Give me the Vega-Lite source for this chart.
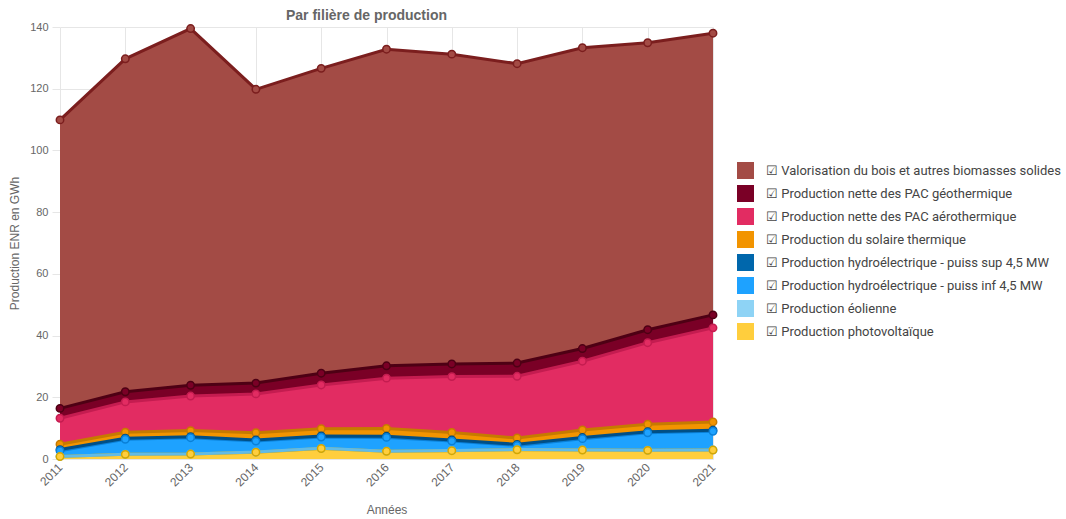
{
  "$schema": "https://vega.github.io/schema/vega-lite/v6.json",
  "width": 653,
  "height": 432,
  "autosize": {"type": "none"},
  "padding": {"left": 60, "top": 27, "right": 353, "bottom": 60},
  "background": "white",
  "title": {
    "text": "Par filière de production",
    "font": "Liberation Sans",
    "fontSize": 14,
    "fontWeight": "bold",
    "color": "#666666",
    "offset": -2,
    "dx": -20
  },
  "config": {
    "view": {"stroke": null},
    "axis": {
      "labelFont": "Liberation Sans",
      "labelFontSize": 11,
      "labelColor": "#666666",
      "titleFont": "Liberation Sans",
      "titleFontSize": 12,
      "titleFontWeight": "normal",
      "titleColor": "#666666",
      "gridColor": "#e6e6e6",
      "domainColor": "#e6e6e6",
      "tickColor": "#e6e6e6"
    }
  },
  "data": {
    "values": [
      {"annee": "2011", "serie": "Production photovoltaïque", "ordre": 1, "valeur": 0.8},
      {"annee": "2011", "serie": "Production éolienne", "ordre": 2, "valeur": 0.05},
      {"annee": "2011", "serie": "Production hydroélectrique - puiss inf 4,5 MW", "ordre": 3, "valeur": 1.85},
      {"annee": "2011", "serie": "Production hydroélectrique - puiss sup 4,5 MW", "ordre": 4, "valeur": 0.35},
      {"annee": "2011", "serie": "Production du solaire thermique", "ordre": 5, "valeur": 1.75},
      {"annee": "2011", "serie": "Production nette des PAC aérothermique", "ordre": 6, "valeur": 8.4},
      {"annee": "2011", "serie": "Production nette des PAC géothermique", "ordre": 7, "valeur": 3.2},
      {"annee": "2011", "serie": "Valorisation du bois et autres biomasses solides", "ordre": 8, "valeur": 93.5},

      {"annee": "2012", "serie": "Production photovoltaïque", "ordre": 1, "valeur": 1.5},
      {"annee": "2012", "serie": "Production éolienne", "ordre": 2, "valeur": 0.05},
      {"annee": "2012", "serie": "Production hydroélectrique - puiss inf 4,5 MW", "ordre": 3, "valeur": 4.85},
      {"annee": "2012", "serie": "Production hydroélectrique - puiss sup 4,5 MW", "ordre": 4, "valeur": 0.35},
      {"annee": "2012", "serie": "Production du solaire thermique", "ordre": 5, "valeur": 1.95},
      {"annee": "2012", "serie": "Production nette des PAC aérothermique", "ordre": 6, "valeur": 9.8},
      {"annee": "2012", "serie": "Production nette des PAC géothermique", "ordre": 7, "valeur": 3.3},
      {"annee": "2012", "serie": "Valorisation du bois et autres biomasses solides", "ordre": 8, "valeur": 107.9},

      {"annee": "2013", "serie": "Production photovoltaïque", "ordre": 1, "valeur": 1.6},
      {"annee": "2013", "serie": "Production éolienne", "ordre": 2, "valeur": 0.05},
      {"annee": "2013", "serie": "Production hydroélectrique - puiss inf 4,5 MW", "ordre": 3, "valeur": 5.25},
      {"annee": "2013", "serie": "Production hydroélectrique - puiss sup 4,5 MW", "ordre": 4, "valeur": 0.35},
      {"annee": "2013", "serie": "Production du solaire thermique", "ordre": 5, "valeur": 1.95},
      {"annee": "2013", "serie": "Production nette des PAC aérothermique", "ordre": 6, "valeur": 11.2},
      {"annee": "2013", "serie": "Production nette des PAC géothermique", "ordre": 7, "valeur": 3.5},
      {"annee": "2013", "serie": "Valorisation du bois et autres biomasses solides", "ordre": 8, "valeur": 115.6},

      {"annee": "2014", "serie": "Production photovoltaïque", "ordre": 1, "valeur": 2.2},
      {"annee": "2014", "serie": "Production éolienne", "ordre": 2, "valeur": 0.05},
      {"annee": "2014", "serie": "Production hydroélectrique - puiss inf 4,5 MW", "ordre": 3, "valeur": 3.55},
      {"annee": "2014", "serie": "Production hydroélectrique - puiss sup 4,5 MW", "ordre": 4, "valeur": 0.35},
      {"annee": "2014", "serie": "Production du solaire thermique", "ordre": 5, "valeur": 2.35},
      {"annee": "2014", "serie": "Production nette des PAC aérothermique", "ordre": 6, "valeur": 12.6},
      {"annee": "2014", "serie": "Production nette des PAC géothermique", "ordre": 7, "valeur": 3.5},
      {"annee": "2014", "serie": "Valorisation du bois et autres biomasses solides", "ordre": 8, "valeur": 95.2},

      {"annee": "2015", "serie": "Production photovoltaïque", "ordre": 1, "valeur": 3.4},
      {"annee": "2015", "serie": "Production éolienne", "ordre": 2, "valeur": 0.05},
      {"annee": "2015", "serie": "Production hydroélectrique - puiss inf 4,5 MW", "ordre": 3, "valeur": 3.65},
      {"annee": "2015", "serie": "Production hydroélectrique - puiss sup 4,5 MW", "ordre": 4, "valeur": 0.35},
      {"annee": "2015", "serie": "Production du solaire thermique", "ordre": 5, "valeur": 2.35},
      {"annee": "2015", "serie": "Production nette des PAC aérothermique", "ordre": 6, "valeur": 14.2},
      {"annee": "2015", "serie": "Production nette des PAC géothermique", "ordre": 7, "valeur": 3.8},
      {"annee": "2015", "serie": "Valorisation du bois et autres biomasses solides", "ordre": 8, "valeur": 98.8},

      {"annee": "2016", "serie": "Production photovoltaïque", "ordre": 1, "valeur": 2.5},
      {"annee": "2016", "serie": "Production éolienne", "ordre": 2, "valeur": 0.05},
      {"annee": "2016", "serie": "Production hydroélectrique - puiss inf 4,5 MW", "ordre": 3, "valeur": 4.45},
      {"annee": "2016", "serie": "Production hydroélectrique - puiss sup 4,5 MW", "ordre": 4, "valeur": 0.35},
      {"annee": "2016", "serie": "Production du solaire thermique", "ordre": 5, "valeur": 2.55},
      {"annee": "2016", "serie": "Production nette des PAC aérothermique", "ordre": 6, "valeur": 16.3},
      {"annee": "2016", "serie": "Production nette des PAC géothermique", "ordre": 7, "valeur": 4.0},
      {"annee": "2016", "serie": "Valorisation du bois et autres biomasses solides", "ordre": 8, "valeur": 102.6},

      {"annee": "2017", "serie": "Production photovoltaïque", "ordre": 1, "valeur": 2.7},
      {"annee": "2017", "serie": "Production éolienne", "ordre": 2, "valeur": 0.05},
      {"annee": "2017", "serie": "Production hydroélectrique - puiss inf 4,5 MW", "ordre": 3, "valeur": 3.05},
      {"annee": "2017", "serie": "Production hydroélectrique - puiss sup 4,5 MW", "ordre": 4, "valeur": 0.35},
      {"annee": "2017", "serie": "Production du solaire thermique", "ordre": 5, "valeur": 2.45},
      {"annee": "2017", "serie": "Production nette des PAC aérothermique", "ordre": 6, "valeur": 18.1},
      {"annee": "2017", "serie": "Production nette des PAC géothermique", "ordre": 7, "valeur": 4.1},
      {"annee": "2017", "serie": "Valorisation du bois et autres biomasses solides", "ordre": 8, "valeur": 100.4},

      {"annee": "2018", "serie": "Production photovoltaïque", "ordre": 1, "valeur": 3.0},
      {"annee": "2018", "serie": "Production éolienne", "ordre": 2, "valeur": 0.05},
      {"annee": "2018", "serie": "Production hydroélectrique - puiss inf 4,5 MW", "ordre": 3, "valeur": 1.35},
      {"annee": "2018", "serie": "Production hydroélectrique - puiss sup 4,5 MW", "ordre": 4, "valeur": 0.35},
      {"annee": "2018", "serie": "Production du solaire thermique", "ordre": 5, "valeur": 2.05},
      {"annee": "2018", "serie": "Production nette des PAC aérothermique", "ordre": 6, "valeur": 20.0},
      {"annee": "2018", "serie": "Production nette des PAC géothermique", "ordre": 7, "valeur": 4.3},
      {"annee": "2018", "serie": "Valorisation du bois et autres biomasses solides", "ordre": 8, "valeur": 97.0},

      {"annee": "2019", "serie": "Production photovoltaïque", "ordre": 1, "valeur": 2.9},
      {"annee": "2019", "serie": "Production éolienne", "ordre": 2, "valeur": 0.05},
      {"annee": "2019", "serie": "Production hydroélectrique - puiss inf 4,5 MW", "ordre": 3, "valeur": 3.65},
      {"annee": "2019", "serie": "Production hydroélectrique - puiss sup 4,5 MW", "ordre": 4, "valeur": 0.35},
      {"annee": "2019", "serie": "Production du solaire thermique", "ordre": 5, "valeur": 2.45},
      {"annee": "2019", "serie": "Production nette des PAC aérothermique", "ordre": 6, "valeur": 22.3},
      {"annee": "2019", "serie": "Production nette des PAC géothermique", "ordre": 7, "valeur": 4.1},
      {"annee": "2019", "serie": "Valorisation du bois et autres biomasses solides", "ordre": 8, "valeur": 97.5},

      {"annee": "2020", "serie": "Production photovoltaïque", "ordre": 1, "valeur": 2.8},
      {"annee": "2020", "serie": "Production éolienne", "ordre": 2, "valeur": 0.05},
      {"annee": "2020", "serie": "Production hydroélectrique - puiss inf 4,5 MW", "ordre": 3, "valeur": 5.65},
      {"annee": "2020", "serie": "Production hydroélectrique - puiss sup 4,5 MW", "ordre": 4, "valeur": 0.35},
      {"annee": "2020", "serie": "Production du solaire thermique", "ordre": 5, "valeur": 2.45},
      {"annee": "2020", "serie": "Production nette des PAC aérothermique", "ordre": 6, "valeur": 26.4},
      {"annee": "2020", "serie": "Production nette des PAC géothermique", "ordre": 7, "valeur": 4.2},
      {"annee": "2020", "serie": "Valorisation du bois et autres biomasses solides", "ordre": 8, "valeur": 93.0},

      {"annee": "2021", "serie": "Production photovoltaïque", "ordre": 1, "valeur": 2.9},
      {"annee": "2021", "serie": "Production éolienne", "ordre": 2, "valeur": 0.05},
      {"annee": "2021", "serie": "Production hydroélectrique - puiss inf 4,5 MW", "ordre": 3, "valeur": 6.05},
      {"annee": "2021", "serie": "Production hydroélectrique - puiss sup 4,5 MW", "ordre": 4, "valeur": 0.35},
      {"annee": "2021", "serie": "Production du solaire thermique", "ordre": 5, "valeur": 2.65},
      {"annee": "2021", "serie": "Production nette des PAC aérothermique", "ordre": 6, "valeur": 30.5},
      {"annee": "2021", "serie": "Production nette des PAC géothermique", "ordre": 7, "valeur": 4.2},
      {"annee": "2021", "serie": "Valorisation du bois et autres biomasses solides", "ordre": 8, "valeur": 91.3}
    ]
  },
  "transform": [
    {"stack": "valeur", "groupby": ["annee"], "sort": [{"field": "ordre", "order": "ascending"}], "as": ["y0", "y1"]}
  ],
  "encoding": {
    "x": {
      "field": "annee",
      "type": "ordinal",
      "scale": {"type": "point", "padding": 0},
      "axis": {
        "title": "Années",
        "labelAngle": -45,
        "labelAlign": "right",
        "labelBaseline": "middle",
        "labelFontSize": 12,
        "labelPadding": 6,
        "grid": true,
        "ticks": false,
        "domain": false,
        "titlePadding": 16
      }
    }
  },
  "layer": [
    {
      "mark": {"type": "area", "interpolate": "linear", "opacity": 1},
      "encoding": {
        "y": {
          "field": "y1",
          "type": "quantitative",
          "scale": {"domain": [0, 140], "nice": false},
          "axis": {
            "title": "Production ENR en GWh",
            "values": [0, 20, 40, 60, 80, 100, 120, 140],
            "grid": true,
            "ticks": true,
            "tickSize": 8,
            "domain": false,
            "labelPadding": 4,
            "titlePadding": 8
          }
        },
        "y2": {"field": "y0"},
        "color": {
          "field": "serie",
          "type": "nominal",
          "scale": {
            "domain": [
              "Valorisation du bois et autres biomasses solides",
              "Production nette des PAC géothermique",
              "Production nette des PAC aérothermique",
              "Production du solaire thermique",
              "Production hydroélectrique - puiss sup 4,5 MW",
              "Production hydroélectrique - puiss inf 4,5 MW",
              "Production éolienne",
              "Production photovoltaïque"
            ],
            "range": ["#A34B45", "#7A0026", "#E22C62", "#F29400", "#0067AC", "#1EA2FF", "#8ED3F5", "#FFCE3D"]
          },
          "legend": {
            "title": null,
            "orient": "none",
            "legendX": 677,
            "legendY": 135,
            "symbolType": "square",
            "symbolSize": 289,
            "symbolStrokeWidth": 0,
            "symbolOpacity": 1,
            "rowPadding": 6,
            "labelFont": "Roboto",
            "labelFontSize": 13,
            "labelColor": "#444444",
            "labelOffset": 12,
            "labelLimit": 400,
            "labelExpr": "'☑  ' + datum.label"
          }
        },
        "order": {"field": "ordre", "type": "quantitative"}
      }
    },
    {
      "mark": {"type": "line", "interpolate": "linear", "strokeWidth": 3},
      "encoding": {
        "y": {"field": "y1", "type": "quantitative"},
        "detail": {"field": "serie"},
        "stroke": {
          "field": "serie",
          "type": "nominal",
          "scale": {
            "domain": [
              "Valorisation du bois et autres biomasses solides",
              "Production nette des PAC géothermique",
              "Production nette des PAC aérothermique",
              "Production du solaire thermique",
              "Production hydroélectrique - puiss sup 4,5 MW",
              "Production hydroélectrique - puiss inf 4,5 MW",
              "Production éolienne",
              "Production photovoltaïque"
            ],
            "range": ["#7B1E1E", "#4E0014", "#C41C50", "#C67A00", "#004F86", "#0A80D8", "#62BBE6", "#D4A600"]
          },
          "legend": null
        }
      }
    },
    {
      "mark": {"type": "point", "filled": true, "size": 55, "strokeWidth": 1.5, "opacity": 1},
      "encoding": {
        "y": {"field": "y1", "type": "quantitative"},
        "fill": {
          "field": "serie",
          "type": "nominal",
          "scale": {
            "domain": [
              "Valorisation du bois et autres biomasses solides",
              "Production nette des PAC géothermique",
              "Production nette des PAC aérothermique",
              "Production du solaire thermique",
              "Production hydroélectrique - puiss sup 4,5 MW",
              "Production hydroélectrique - puiss inf 4,5 MW",
              "Production éolienne",
              "Production photovoltaïque"
            ],
            "range": ["#A34B45", "#7A0026", "#E22C62", "#F29400", "#0067AC", "#1EA2FF", "#8ED3F5", "#FFCE3D"]
          },
          "legend": null
        },
        "stroke": {"field": "serie", "type": "nominal", "legend": null},
        "order": {"field": "ordre", "type": "quantitative", "sort": "descending"}
      }
    }
  ],
  "resolve": {"scale": {"color": "independent"}}
}
